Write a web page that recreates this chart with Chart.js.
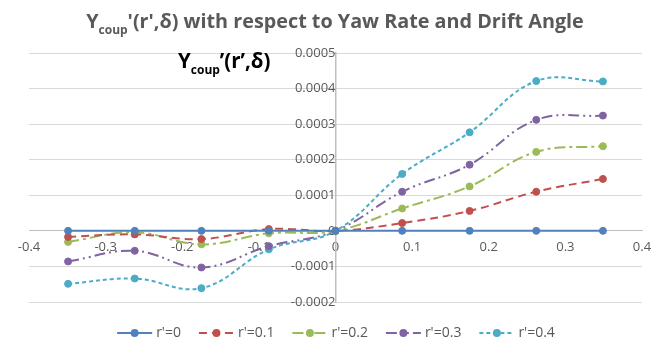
<!DOCTYPE html>
<html>
<head>
<meta charset="utf-8">
<script src="https://cdn.jsdelivr.net/npm/chart.js@4"></script>
<style>
  body { margin: 0; background: #fff; }
  #wrap { width: 667px; height: 343px; }
</style>
</head>
<body>
<div id="wrap"><canvas id="chart" width="667" height="343"></canvas></div>
<script>
// drift angle (rad) for each point
const xVals = [-0.349, -0.262, -0.175, -0.087, 0, 0.087, 0.175, 0.262, 0.349];
const seriesNames = ["r'=0", "r'=0.1", "r'=0.2", "r'=0.3", "r'=0.4"];
const r00 = [0, 0, 0, 0, 0, 0, 0, 0, 0];
const r01 = [-0.000017, -0.000010, -0.000023, 0.000005, 0, 0.000022, 0.000056, 0.000110, 0.000146];
const r02 = [-0.000031, -0.000004, -0.000038, -0.000007, 0, 0.000063, 0.000125, 0.000222, 0.000238];
const r03 = [-0.000086, -0.000056, -0.000103, -0.000043, 0, 0.000110, 0.000186, 0.000312, 0.000324];
const r04 = [-0.000149, -0.000134, -0.000161, -0.000052, 0, 0.000160, 0.000277, 0.000421, 0.000420];
const xTicks = [-0.4, -0.3, -0.2, -0.1, 0, 0.1, 0.2, 0.3, 0.4];
const yTicks = [-0.0002, -0.0001, 0, 0.0001, 0.0002, 0.0003, 0.0004, 0.0005];

const colors = ['#4F81BD', '#C0504D', '#9BBB59', '#8064A2', '#4BACC6'];
const dashes = [[], [8, 5], [11, 4, 3, 4], [11, 4, 2, 4, 2, 4], [4, 3]];
const allSeries = [r00, r01, r02, r03, r04];
const textGray = '#595959';
const FONT = '"Open Sans", sans-serif';

// text with a subscript part: parts = [[text, isSub], ...]
function drawParts(ctx, parts, x, y, size, color, align) {
    const big = 'bold ' + size + 'px ' + FONT;
    const small = 'bold ' + Math.round(size * 0.6) + 'px ' + FONT;
    let total = 0;
    parts.forEach(p => { ctx.font = p[1] ? small : big; total += ctx.measureText(p[0]).width; });
    let cx = align === 'center' ? x - total / 2 : (align === 'right' ? x - total : x);
    ctx.fillStyle = color;
    ctx.textBaseline = 'alphabetic';
    ctx.textAlign = 'left';
    parts.forEach(p => {
        ctx.font = p[1] ? small : big;
        ctx.fillText(p[0], cx, p[1] ? y + size * 0.3 : y);
        cx += ctx.measureText(p[0]).width;
    });
}

function drawLegend(ctx, cy) {
    const iconW = 35, gap = 4, itemGap = 18;
    ctx.font = '14px ' + FONT;
    const widths = seriesNames.map(n => iconW + gap + ctx.measureText(n).width);
    const total = widths.reduce((a, b) => a + b, 0) + itemGap * (widths.length - 1);
    let x = 336 - total / 2;
    seriesNames.forEach((name, i) => {
        ctx.save();
        ctx.strokeStyle = colors[i];
        ctx.lineWidth = 2;
        ctx.setLineDash(dashes[i]);
        ctx.beginPath(); ctx.moveTo(x, cy); ctx.lineTo(x + iconW, cy); ctx.stroke();
        ctx.setLineDash([]);
        ctx.fillStyle = colors[i];
        ctx.beginPath(); ctx.arc(x + iconW / 2, cy, 4, 0, Math.PI * 2); ctx.fill();
        ctx.restore();
        ctx.fillStyle = textGray;
        ctx.textAlign = 'left';
        ctx.textBaseline = 'middle';
        ctx.font = '14px ' + FONT;
        ctx.fillText(name, x + iconW + gap, cy);
        x += widths[i] + itemGap;
    });
}

const labelsPlugin = {
    id: 'labels',
    afterDraw(chart) {
        const ctx = chart.ctx;
        ctx.save();
        drawParts(ctx, [['Y', false], ['coup', true], ["'(r',δ) with respect to Yaw Rate and Drift Angle", false]],
            335, 28, 19.8, textGray, 'center');
        const yS = chart.scales.y, xS = chart.scales.x;
        drawParts(ctx, [['Y', false], ['coup', true], ['\u2019(r\u2019,δ)', false]],
            xS.getPixelForValue(0) - 65, yS.getPixelForValue(0.0005) + 15, 20.5, '#000', 'right');
        drawLegend(ctx, 333);
        ctx.restore();
    }
};

const datasets = allSeries.map((arr, i) => ({
    label: seriesNames[i],
    data: arr.map((v, j) => ({ x: xVals[j], y: v })),
    borderColor: colors[i],
    backgroundColor: colors[i],
    borderWidth: 2,
    borderDash: dashes[i],
    pointRadius: 3.5,
    pointBorderWidth: 1,
    pointHoverRadius: 3.5,
    tension: 0.4,
    fill: false
}));

new Chart(document.getElementById('chart'), {
    type: 'line',
    data: { datasets: datasets },
    options: {
        responsive: false,
        animation: false,
        layout: { padding: { left: 29, right: 25, top: 53, bottom: 41 } },
        plugins: {
            title: { display: false },
            tooltip: { enabled: false },
            legend: { display: false }
        },
        scales: {
            x: {
                type: 'linear',
                position: { y: 0 },
                min: -0.4, max: 0.4,
                afterBuildTicks: s => { s.ticks = xTicks.map(v => ({ value: v })); },
                grid: { display: false, drawTicks: false },
                border: { color: '#bfbfbf', width: 1 },
                ticks: {
                    color: textGray,
                    padding: 9,
                    maxRotation: 0,
                    font: { family: FONT, size: 13 },
                    callback: v => String(parseFloat(v.toFixed(1)))
                }
            },
            y: {
                type: 'linear',
                position: { x: 0 },
                min: -0.0002, max: 0.0005,
                afterBuildTicks: s => { s.ticks = yTicks.map(v => ({ value: v })); },
                grid: { color: '#d9d9d9', drawTicks: false, lineWidth: 1 },
                border: { color: '#bfbfbf', width: 1.5 },
                ticks: {
                    color: textGray,
                    padding: 4,
                    font: { family: FONT, size: 13 },
                    callback: v => String(parseFloat(v.toFixed(4)))
                }
            }
        }
    },
    plugins: [labelsPlugin]
});
</script>
</body>
</html>
